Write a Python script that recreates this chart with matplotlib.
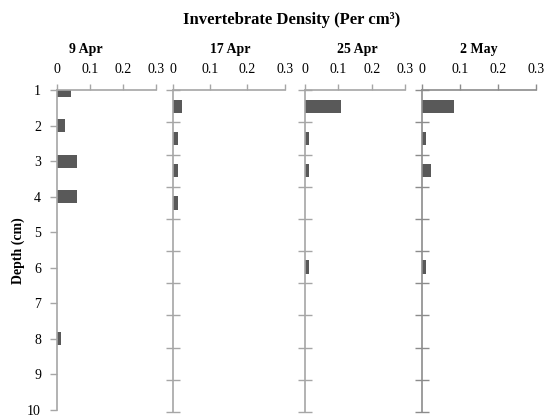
import matplotlib
matplotlib.use("Agg")
import matplotlib.pyplot as plt
import numpy as np

plt.rcParams['font.family'] = ['Liberation Serif', 'DejaVu Serif']

depths = [1, 2, 3, 4, 5, 6, 7, 8, 9, 10]
dates = ["9 Apr", "17 Apr", "25 Apr", "2 May"]
apr9 = [0.043, 0.023, 0.061, 0.061, 0, 0, 0, 0.012, 0, 0]
apr17 = [0.024, 0.014, 0.014, 0.014, 0, 0, 0, 0, 0, 0]
apr25 = [0.109, 0.012, 0.012, 0, 0, 0.012, 0, 0, 0, 0]
may2 = [0.083, 0.011, 0.023, 0, 0, 0.011, 0, 0, 0, 0]
series = [apr9, apr17, apr25, may2]
xticks = [0, 0.1, 0.2, 0.3]
xticklabels = ["0", "0.1", "0.2", "0.3"]

W, H = 545, 416
fig = plt.figure(figsize=(W / 100, H / 100), dpi=100)

# panel pixel boxes: left, right, top, bottom
boxes = [(57, 156, 90.3, 409.7), (172.7, 284.7, 90.3, 412),
         (305, 405.3, 90.3, 412), (422.3, 536.3, 90.3, 412)]
bar_color = "#595959"
axis_colors = ["#a6a6a6", "#a6a6a6", "#a6a6a6", "#8c8c8c"]

for i, (vals, box, title) in enumerate(zip(series, boxes, dates)):
    l, r, t, b = box
    ax = fig.add_axes([l / W, 1 - b / H, (r - l) / W, (b - t) / H])
    ac = axis_colors[i]
    if i == 0:
        ax.barh(depths, vals, height=0.37, color=bar_color)
        ax.set_ylim(10, 1)
        ax.set_yticks(depths)
        ax.set_yticklabels([str(d) for d in depths])
        ax.tick_params(axis='y', direction='out', length=5, width=1,
                       color=ac, labelsize=10, pad=6.5)
    else:
        pos = np.arange(len(depths))
        ax.barh(pos, vals, height=0.42, color=bar_color)
        ax.set_ylim(len(depths) - 0.5, -0.5)
        ax.set_yticks(np.arange(len(depths) + 1) - 0.5)
        ax.set_yticklabels([])
        ax.tick_params(axis='y', direction='inout', length=10, width=1,
                       color=ac)
    ax.set_xlim(0, 0.3)
    ax.xaxis.tick_top()
    ax.set_xticks(xticks)
    ax.set_xticklabels(xticklabels)
    ax.tick_params(axis='x', direction='out', length=4, width=1, color=ac,
                   labelsize=10, pad=6.5)
    for s in ['right', 'bottom']:
        ax.spines[s].set_visible(False)
    for s in ['left', 'top']:
        ax.spines[s].set_color(ac)
        ax.spines[s].set_linewidth(1.2)
    ax.set_facecolor('none')
    cx = (l + r) / 2
    fig.text([86, 230, 357, 479][i] / W, 1 - 50 / H, title, ha='center',
             va='center', fontsize=10, fontweight='bold')

fig.text(292 / W, 1 - 20 / H, "Invertebrate Density (Per cm³)", ha='center',
         va='center', fontsize=12, fontweight='bold')
fig.text(18 / W, 1 - 251 / H, "Depth (cm)", ha='center', va='center',
         rotation=90, fontsize=10, fontweight='bold')

fig.savefig("out.png", dpi=100)
